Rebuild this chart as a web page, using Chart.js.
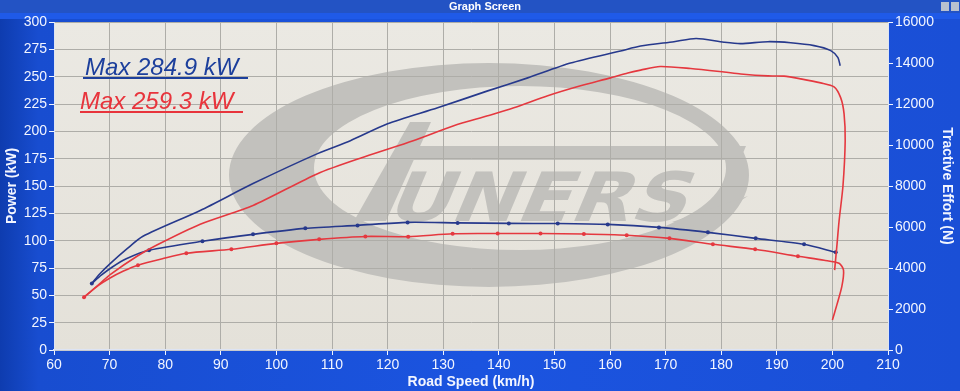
<!DOCTYPE html>
<html>
<head>
<meta charset="utf-8">
<title>Graph Screen</title>
<script src="https://cdn.jsdelivr.net/npm/chart.js@4.4.1/dist/chart.umd.min.js"></script>
<style>
  html, body { margin: 0; padding: 0; background: #1a4fd8; overflow: hidden; }
  #wrap { position: relative; width: 960px; height: 391px; }
</style>
</head>
<body>
<div id="wrap"><canvas id="dyno" width="960" height="391"></canvas></div>
<script>
// Run 1 (blue) power curve, km/h -> kW
const bluePowerSpeed = [66.8, 68.3, 70.1, 73.0, 76.0, 86.3, 95.8, 107.4, 113.3, 120.0, 129.0, 138.0, 145.2, 152.9, 161.9, 165.5, 171.5, 175.5, 180.5, 183.5, 188.4, 192.5, 196.7, 199.7, 201.0, 201.4];
const bluePowerKw    = [61, 70, 79, 92, 104, 127.6, 152.2, 179.6, 191.4, 206.9, 221.5, 237.0, 248.9, 262.5, 273.5, 278.0, 282.0, 284.9, 281.5, 280.2, 282.0, 281.0, 278.4, 273.8, 267.4, 260.0];

// Run 2 (red) power curve, incl. the coast-down drop at the end
const redPowerSpeed = [65.4, 68.3, 70.1, 75.0, 78.5, 86.3, 95.8, 107.4, 116.0, 124.6, 131.9, 138.0, 142.7, 148.8, 154.7, 160.1, 163.2, 165.5, 169.0, 174.5, 180.5, 183.5, 188.4, 191.3, 194.3, 197.9, 200.3, 201.5, 202.1, 202.3, 201.9, 201.2, 200.8, 200.4];
const redPowerKw    = [48.3, 61, 69, 86, 96, 115, 132.2, 161.3, 177, 191.4, 205.1, 214.2, 221.5, 232.5, 241.6, 248.9, 253.4, 256.0, 259.3, 257.5, 254.3, 252.5, 250.7, 250.5, 248.0, 244.3, 240.7, 230.6, 216.0, 191.4, 150, 118, 95, 73];

// Tractive effort curves (N, right axis)
const blueEffortSpeed = [66.8, 68.5, 70.5, 73.0, 77.1, 86.7, 95.8, 105.2, 114.6, 123.6, 132.6, 141.8, 150.6, 159.6, 168.8, 177.6, 186.2, 194.9, 200.6];
const blueEffortN     = [3250, 3650, 4050, 4450, 4863, 5301, 5641, 5933, 6079, 6225, 6200, 6176, 6170, 6127, 5981, 5738, 5447, 5155, 4766];
const blueEffortMarks = [0, 4, 5, 6, 7, 8, 9, 10, 11, 12, 13, 14, 15, 16, 17, 18];

const redEffortSpeed = [65.4, 68.0, 70.0, 72.5, 75.1, 79.5, 83.8, 91.9, 100.0, 107.7, 116.0, 123.7, 131.7, 139.8, 147.5, 155.3, 163.0, 170.7, 178.5, 186.1, 193.8, 198.5, 201.2, 202.0, 201.7, 200.8, 200.0];
const redEffortN     = [2577, 3150, 3500, 3850, 4134, 4450, 4717, 4912, 5203, 5398, 5540, 5530, 5670, 5680, 5680, 5660, 5600, 5447, 5155, 4912, 4571, 4380, 4231, 3900, 3100, 2200, 1460];
const redEffortMarks = [0, 4, 6, 7, 8, 9, 10, 11, 12, 13, 14, 15, 16, 17, 18, 19, 20];

// Axis ticks
const speedTicks = [60, 210, 10];
const powerTicks = [0, 300, 25];
const effortTicks = [0, 16000, 2000];

const maxLabels = ['Max 284.9 kW', 'Max 259.3 kW'];

const BLUE = '#27398c';
const RED = '#e5383f';
const WHITE = '#f2f5ff';

function zip(xs, ys) {
    return xs.map(function(x, i) { return { x: x, y: ys[i] }; });
}

function markerRadius(marks) {
    return function(ctx) { return marks.indexOf(ctx.dataIndex) >= 0 ? 2 : 0; };
}

// Watermark logo, laid out in reference pixels and mapped onto the chart area
function drawLogo(ctx, a) {
    const sx = a.width / 834, sy = a.height / 328;
    const X = function(x) { return a.left + (x - 54) * sx; };
    const Y = function(y) { return a.top + (y - 22) * sy; };
    ctx.save();
    ctx.beginPath();
    ctx.rect(a.left, a.top, a.width, a.height);
    ctx.clip();
    ctx.fillStyle = '#c2c1bd';
    ctx.textAlign = 'left';
    ctx.textBaseline = 'alphabetic';

    // ring
    ctx.beginPath();
    ctx.ellipse(X(489), Y(175), 260 * sx, 112 * sy, 0, 0, Math.PI * 2);
    ctx.ellipse(X(520), Y(168), 206 * sx, 82 * sy, 0, 0, Math.PI * 2);
    ctx.fill('evenodd');

    // T bar and slanted stem
    ctx.beginPath();
    ctx.moveTo(X(404), Y(146)); ctx.lineTo(X(746), Y(146));
    ctx.lineTo(X(740), Y(160)); ctx.lineTo(X(396), Y(160));
    ctx.closePath();
    ctx.fill();
    ctx.beginPath();
    ctx.moveTo(X(410), Y(122)); ctx.lineTo(X(431), Y(122));
    ctx.lineTo(X(386), Y(221)); ctx.lineTo(X(354), Y(221));
    ctx.closePath();
    ctx.fill();

    // swoosh under the S
    ctx.beginPath();
    ctx.moveTo(X(672), Y(222)); ctx.lineTo(X(748), Y(196));
    ctx.lineTo(X(700), Y(226));
    ctx.closePath();
    ctx.fill();

    // lettering
    ctx.save();
    ctx.translate(X(384), Y(221));
    ctx.transform(1, 0, -0.42, 1, 0, 0);
    ctx.font = 'bold 68px "DejaVu Sans"';
    const w = ctx.measureText('UNERS').width;
    ctx.scale(300 * sx / w, sy);
    ctx.fillText('UNERS', 0, 0);
    ctx.restore();
    ctx.restore();
}

const screenPlugin = {
    id: 'screen',
    beforeDraw: function(chart) {
        const ctx = chart.ctx, a = chart.chartArea;
        const W = chart.width, H = chart.height;
        ctx.save();
        // blue frame
        const g = ctx.createLinearGradient(0, 0, W, 0);
        g.addColorStop(0, '#0e3caf');
        g.addColorStop(0.04, '#184dd0');
        g.addColorStop(0.5, '#1b54e0');
        g.addColorStop(1, '#1a4fd6');
        ctx.fillStyle = g;
        ctx.fillRect(0, 0, W, H);
        // title bar
        ctx.fillStyle = '#2353c4';
        ctx.fillRect(0, 0, W, 13);
        ctx.fillStyle = '#1f5ae8';
        ctx.fillRect(0, 13, W, 6);
        ctx.fillStyle = '#ffffff';
        ctx.font = 'bold 11px "Liberation Sans", Arial, sans-serif';
        ctx.textAlign = 'center';
        ctx.textBaseline = 'middle';
        ctx.fillText('Graph Screen', 485, 6.5);
        ctx.fillStyle = '#b8c0cf';
        ctx.fillRect(941, 2, 8, 9);
        ctx.fillRect(951, 2, 8, 9);
        // plot background
        const pg = ctx.createLinearGradient(0, a.top, 0, a.bottom);
        pg.addColorStop(0, '#ebe9e3');
        pg.addColorStop(1, '#e4e1d9');
        ctx.fillStyle = pg;
        ctx.fillRect(a.left, a.top, a.width, a.height);
        drawLogo(ctx, a);
        ctx.restore();
    },
    afterDatasetsDraw: function(chart) {
        const ctx = chart.ctx;
        const rows = [
            { text: maxLabels[0], color: '#1c3f9c', x: 85, y: 75, u0: 83, u1: 248 },
            { text: maxLabels[1], color: '#e8343c', x: 80, y: 109, u0: 80, u1: 243 }
        ];
        ctx.save();
        ctx.font = 'italic 24px "Liberation Sans", Arial, sans-serif';
        ctx.textAlign = 'left';
        ctx.textBaseline = 'alphabetic';
        rows.forEach(function(r) {
            ctx.fillStyle = r.color;
            ctx.fillText(r.text, r.x, r.y);
            ctx.strokeStyle = r.color;
            ctx.lineWidth = 2;
            ctx.beginPath();
            ctx.moveTo(r.u0, r.y + 3);
            ctx.lineTo(r.u1, r.y + 3);
            ctx.stroke();
        });
        ctx.restore();
    }
};

function lineSet(label, data, color, axis, radius) {
    return {
        label: label,
        data: data,
        yAxisID: axis,
        borderColor: color,
        backgroundColor: color,
        borderWidth: 1.6,
        pointRadius: radius,
        pointHoverRadius: radius,
        pointBorderWidth: 0,
        tension: 0.25,
        fill: false
    };
}

const tickFont = { family: '"Liberation Sans", Arial, sans-serif', size: 14 };
const titleFont = { family: '"Liberation Sans", Arial, sans-serif', size: 14, weight: 'bold' };

new Chart(document.getElementById('dyno').getContext('2d'), {
    type: 'line',
    data: {
        datasets: [
            lineSet('Power run 1', zip(bluePowerSpeed, bluePowerKw), BLUE, 'y', 0),
            lineSet('Power run 2', zip(redPowerSpeed, redPowerKw), RED, 'y', 0),
            lineSet('Tractive run 1', zip(blueEffortSpeed, blueEffortN), BLUE, 'y1', markerRadius(blueEffortMarks)),
            lineSet('Tractive run 2', zip(redEffortSpeed, redEffortN), RED, 'y1', markerRadius(redEffortMarks))
        ]
    },
    options: {
        responsive: false,
        devicePixelRatio: 1,
        animation: false,
        layout: { padding: { top: 22, left: 0, right: 0, bottom: 0 } },
        plugins: { legend: { display: false }, tooltip: { enabled: false } },
        scales: {
            x: {
                type: 'linear',
                position: 'bottom',
                min: speedTicks[0], max: speedTicks[1],
                afterFit: function(s) { s.height = 41; },
                ticks: { stepSize: speedTicks[2], autoSkip: false, maxRotation: 0, color: WHITE, font: tickFont, padding: 2 },
                grid: { color: '#aeada8', tickColor: WHITE, tickLength: 5 },
                border: { color: '#dde4f4', width: 1.5 },
                title: { display: true, text: 'Road Speed (km/h)', color: WHITE, font: titleFont, padding: { top: 0, bottom: 0 } }
            },
            y: {
                position: 'left',
                min: powerTicks[0], max: powerTicks[1],
                afterFit: function(s) { s.width = 54; },
                ticks: { stepSize: powerTicks[2], color: WHITE, font: tickFont, padding: 2 },
                grid: { color: '#aeada8', tickColor: WHITE, tickLength: 5 },
                border: { color: '#dde4f4', width: 1 },
                title: { display: true, text: 'Power (kW)', color: WHITE, font: titleFont, padding: { top: 4, bottom: 0 } }
            },
            y1: {
                position: 'right',
                min: effortTicks[0], max: effortTicks[1],
                afterFit: function(s) { s.width = 72; },
                ticks: { stepSize: effortTicks[2], color: WHITE, font: tickFont, padding: 2, callback: function(v) { return String(v); } },
                grid: { drawOnChartArea: false, tickColor: WHITE, tickLength: 5 },
                border: { color: '#dde4f4', width: 1 },
                title: { display: true, text: 'Tractive Effort (N)', color: WHITE, font: titleFont, padding: { top: 5, bottom: 0 } }
            }
        }
    },
    plugins: [screenPlugin]
});
</script>
</body>
</html>
